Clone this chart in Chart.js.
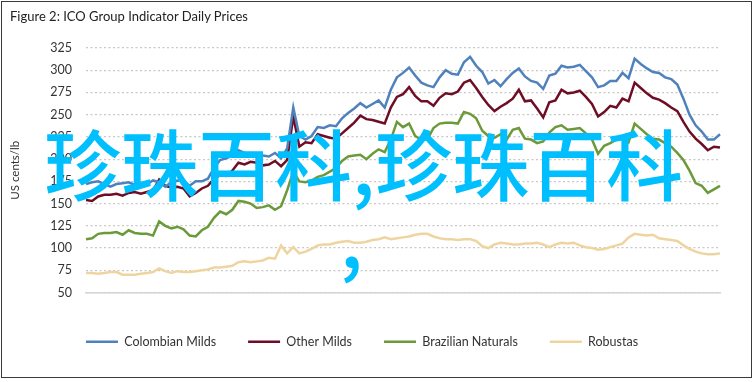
<!DOCTYPE html>
<html>
<head>
<meta charset="utf-8">
<script src="https://cdn.jsdelivr.net/npm/chart.js@4"></script>
<style>
  html, body { margin: 0; padding: 0; background: #fff; }
  #wrap { position: relative; width: 755px; height: 382px; overflow: hidden; }
  #frame { position: absolute; left: 1px; top: 1px; width: 749px; height: 375px; border: 1.5px solid #3a3a3a; }
  #title { position: absolute; left: 10px; top: 8px; font: 13px Lato, sans-serif; color: #222; }
  .mark { position: absolute; font-family: "Noto Sans CJK SC"; font-size: 77px; font-weight: 500; line-height: 1; color: #00bfff; white-space: nowrap; }
  canvas { position: absolute; left: 0; top: 0; }
</style>
</head>
<body>
<div id="wrap">
  <canvas id="chart" width="755" height="382"></canvas>
  <div id="frame"></div>
  <div id="title">Figure 2: ICO Group Indicator Daily Prices</div>
  <div class="mark" style="left:44px; top:123px;">珍珠百科,珍珠百科</div>
  <div class="mark" style="left:340px; top:196px;">,</div>
</div>
<script>
// weekly readings, first week of Dec-20 to last week of Nov-22
const colombianMilds = [
  172, 174, 175, 172, 169, 172, 173, 174, 171, 170,
  172, 176, 174, 169, 174, 176, 175, 170, 175, 175,
  178, 190, 199, 201, 204, 210, 207, 203, 206, 204,
  203, 207, 201, 212, 258, 226, 222, 226, 236, 235,
  238, 237, 246, 252, 257, 263, 258, 262, 266, 258,
  278, 292, 297, 303, 294, 286, 283, 281, 292, 300,
  296, 295, 309, 315, 305, 298, 285, 289, 282, 290,
  297, 302, 293, 288, 286, 279, 294, 296, 305, 303,
  304, 306, 299, 292, 281, 283, 288, 288, 297, 291,
  313, 307, 302, 298, 297, 292, 290, 284, 268, 250,
  238, 231, 222, 222, 228
];
const otherMilds = [
  154, 153, 158, 160, 160, 161, 159, 162, 163, 161,
  163, 165, 177, 170, 168, 169, 167, 158, 162, 167,
  170, 178, 182, 181, 187, 196, 194, 197, 196, 193,
  194, 198, 192, 199, 248, 214, 219, 218, 228, 226,
  224, 223, 229, 235, 241, 249, 245, 244, 242, 240,
  258, 270, 273, 281, 271, 265, 265, 260, 269, 274,
  273, 276, 286, 289, 280, 270, 261, 254, 259, 263,
  268, 278, 265, 266, 257, 247, 264, 266, 278, 274,
  275, 277, 270, 262, 248, 253, 260, 258, 268, 265,
  286, 280, 274, 269, 267, 263, 258, 254, 242, 231,
  223, 217, 210, 214, 213
];
const brazilianNaturals = [
  110, 111, 116, 117, 117, 118, 115, 120, 117, 116,
  116, 114, 130, 125, 122, 124, 121, 114, 113, 120,
  124, 134, 141, 138, 143, 153, 152, 150, 145, 146,
  148, 143, 147, 165, 186, 175, 174, 176, 180, 182,
  186, 190, 198, 203, 204, 205, 200, 206, 211, 208,
  222, 242, 236, 240, 226, 222, 222, 235, 240, 241,
  241, 240, 253, 251, 246, 232, 226, 224, 228, 222,
  233, 235, 223, 222, 218, 220, 230, 236, 238, 233,
  234, 235, 229, 222, 206, 215, 218, 222, 226, 219,
  240, 234, 228, 223, 222, 218, 214, 207, 199, 187,
  173, 170, 162, 166, 170
];
const robustas = [
  72, 72, 71, 72, 73, 73, 70, 70, 70, 71,
  72, 73, 77, 74, 72, 74, 73, 73, 74, 75,
  76, 78, 78, 79, 80, 84, 85, 84, 85, 86,
  89, 88, 103, 94, 101, 94, 96, 99, 103, 104,
  104, 106, 107, 108, 106, 106, 107, 109, 110, 112,
  110, 111, 112, 113, 115, 116, 116, 113, 111, 110,
  110, 109, 110, 110, 108, 102, 100, 104, 106, 105,
  104, 104, 105, 105, 106, 104, 101, 104, 106, 105,
  106, 103, 101, 100, 98, 99, 101, 103, 105, 112,
  116, 115, 114, 115, 111, 110, 109, 108, 103, 99,
  96, 94, 93, 93, 94
];
const quarterTicks = ['Dec-20', 'Mar-21', 'Jun-21', 'Sep-21', 'Dec-21', 'Mar-22', 'Jun-22', 'Sep-22'];
const yTicks = { min: 50, max: 325, step: 25 };

// one label per week, starting 1 Dec 2020
const weekLabels = colombianMilds.map((_, i) => {
    const d = new Date(Date.UTC(2020, 11, 1 + i * 7));
    return d.toISOString().slice(0, 10);
});

Chart.defaults.font.family = "Lato, sans-serif";
Chart.defaults.color = '#333';

function series(label, data, color) {
    return {
        label: label,
        data: data,
        borderColor: color,
        backgroundColor: color,
        borderWidth: 2.5,
        pointRadius: 0,
        tension: 0,
        fill: false
    };
}

new Chart(document.getElementById('chart'), {
    type: 'line',
    data: {
        labels: weekLabels,
        datasets: [
            series('Colombian Milds', colombianMilds, '#4f81bd'),
            series('Other Milds', otherMilds, '#700d26'),
            series('Brazilian Naturals', brazilianNaturals, '#6b9a3a'),
            series('Robustas', robustas, '#eed5a0')
        ]
    },
    options: {
        responsive: false,
        animation: false,
        events: [],
        layout: { padding: { left: 4, right: 35, top: 48, bottom: 24 } },
        plugins: {
            legend: {
                position: 'bottom',
                labels: {
                    usePointStyle: true,
                    pointStyle: 'line',
                    pointStyleWidth: 32,
                    padding: 32,
                    color: '#333',
                    font: { size: 12.5 }
                }
            },
            tooltip: { enabled: false }
        },
        scales: {
            x: {
                grid: { display: false, drawTicks: false },
                border: { display: true, color: '#d4d4d4', width: 1.5 },
                ticks: {
                    autoSkip: false,
                    maxRotation: 0,
                    padding: 11,
                    font: { size: 12.5 },
                    callback: (v, i) => (i % 13 === 0 ? (quarterTicks[i / 13] || '') : '')
                },
                afterFit: s => { s.height = 11; }
            },
            y: {
                min: yTicks.min,
                max: yTicks.max,
                ticks: { stepSize: yTicks.step, padding: 14, font: { size: 12.5 } },
                grid: { color: '#c8c8c8', lineWidth: 1.2, drawTicks: false },
                border: { display: false, dash: [2, 2.5] },
                title: { display: true, text: 'US cents/lb', font: { size: 11.5 }, padding: 4 },
                afterFit: s => { s.width = 82; }
            }
        }
    }
});
</script>
</body>
</html>
